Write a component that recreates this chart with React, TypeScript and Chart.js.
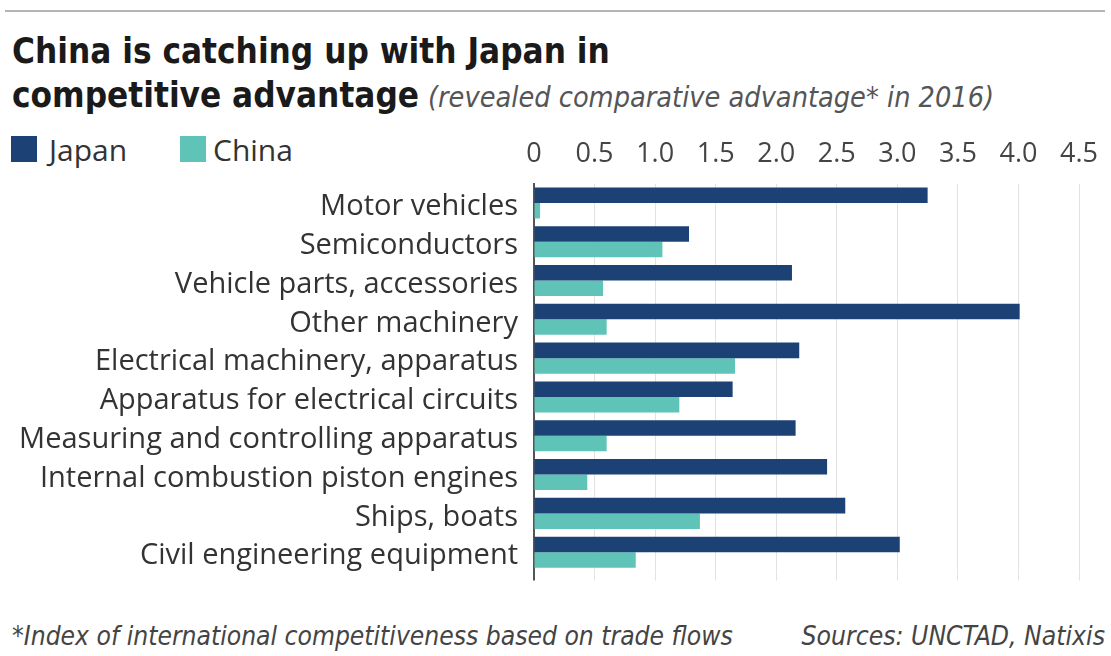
import React, { useEffect, useRef } from "react";
import { Chart, registerables } from "chart.js";

Chart.register(...registerables);

const categories = [
  "Motor vehicles",
  "Semiconductors",
  "Vehicle parts, accessories",
  "Other machinery",
  "Electrical machinery, apparatus",
  "Apparatus for electrical circuits",
  "Measuring and controlling apparatus",
  "Internal combustion piston engines",
  "Ships, boats",
  "Civil engineering equipment",
];
const japanValues = [3.25, 1.28, 2.13, 4.01, 2.19, 1.64, 2.16, 2.42, 2.57, 3.02];
const chinaValues = [0.05, 1.06, 0.57, 0.6, 1.66, 1.2, 0.6, 0.44, 1.37, 0.84];
const tickValues = [0, 0.5, 1.0, 1.5, 2.0, 2.5, 3.0, 3.5, 4.0, 4.5];
const tickLabels = ["0", "0.5", "1.0", "1.5", "2.0", "2.5", "3.0", "3.5", "4.0", "4.5"];

const JAPAN = "#1c4275";
const CHINA = "#5fc3b8";
const NARROW = "'DejaVu Sans Condensed', 'DejaVu Sans', sans-serif";
const LABEL_FONT = "'Open Sans', Lato, sans-serif";

export default function App() {
  const ref = useRef<HTMLCanvasElement>(null);

  useEffect(() => {
    if (!ref.current) return;
    const labelFor = (v: number) => {
      const i = tickValues.findIndex((t) => Math.abs(t - v) < 1e-6);
      return i >= 0 ? tickLabels[i] : "";
    };
    const chart = new Chart(ref.current, {
      type: "bar",
      data: {
        labels: categories,
        datasets: [
          { label: "Japan", data: japanValues, backgroundColor: JAPAN, xAxisID: "x" },
          { label: "China", data: chinaValues, backgroundColor: CHINA, xAxisID: "x" },
        ],
      },
      options: {
        indexAxis: "y",
        animation: false,
        responsive: false,
        maintainAspectRatio: false,
        layout: { padding: { left: 0, right: 24.5, top: 0, bottom: 0 } },
        datasets: { bar: { categoryPercentage: 0.8, barPercentage: 1.0 } },
        plugins: { legend: { display: false }, tooltip: { enabled: false }, title: { display: false } },
        scales: {
          x: {
            position: "top",
            min: 0,
            max: 4.5,
            afterBuildTicks: (s: any) => {
              s.ticks = tickValues.map((v) => ({ value: v }));
            },
            afterFit: (s: any) => {
              s.height = 53.5;
            },
            ticks: {
              callback: (v: any) => labelFor(Number(v)),
              color: "#444444",
              font: { family: LABEL_FONT, size: 27 },
              padding: 13,
              maxRotation: 0,
              autoSkip: false,
            },
            grid: { color: "#e2e2e2", lineWidth: 1, drawTicks: false },
            border: { display: false },
          },
          x2: {
            position: "bottom",
            min: 0,
            max: 4.5,
            afterBuildTicks: (s: any) => {
              s.ticks = tickValues.map((v) => ({ value: v }));
            },
            afterFit: (s: any) => {
              s.height = 12.8;
            },
            ticks: { display: false },
            grid: {
              drawOnChartArea: false,
              drawTicks: true,
              tickLength: 9,
              color: (ctx: any) => (ctx.tick && ctx.tick.value === 0 ? "#555555" : "#e2e2e2"),
              lineWidth: (ctx: any) => (ctx.tick && ctx.tick.value === 0 ? 2 : 1),
            },
            border: { display: false },
          },
          y: {
            afterFit: (s: any) => {
              s.width = 534;
            },
            ticks: {
              color: "#333333",
              font: { family: LABEL_FONT, size: 29 },
              padding: 16,
              labelOffset: 4,
              autoSkip: false,
            },
            grid: { display: false, drawTicks: false },
            border: { display: true, color: "#555555", width: 2 },
          },
        },
      },
    });
    return () => chart.destroy();
  }, []);

  const abs = (o: React.CSSProperties): React.CSSProperties => ({ position: "absolute", whiteSpace: "nowrap", ...o });

  return (
    <div style={{ position: "absolute", left: 0, top: 0, width: 1111, height: 656, background: "#ffffff", overflow: "hidden" }}>
      <div style={abs({ left: 5, top: 10, width: 1100, height: 2, background: "#b5b5b5" })} />
      <div
        style={abs({
          left: 12,
          top: 31,
          fontFamily: NARROW,
          fontWeight: 700,
          fontSize: 36,
          lineHeight: "40px",
          color: "#1a1a1a",
          transform: "scaleX(0.966)",
          transformOrigin: "0 0",
        })}
      >
        China is catching up with Japan in
      </div>
      <div
        style={abs({
          left: 12,
          top: 75,
          fontFamily: NARROW,
          fontWeight: 700,
          fontSize: 36,
          lineHeight: "40px",
          color: "#1a1a1a",
          transform: "scaleX(0.966)",
          transformOrigin: "0 0",
        })}
      >
        competitive advantage
      </div>
      <div
        style={abs({
          left: 428,
          top: 79,
          fontFamily: NARROW,
          fontStyle: "italic",
          fontSize: 28.6,
          lineHeight: "36px",
          color: "#555555",
        })}
      >
        (revealed comparative advantage* in 2016)
      </div>
      <div style={abs({ left: 11, top: 136, width: 26, height: 26, background: JAPAN })} />
      <div style={abs({ left: 49, top: 134.5, fontFamily: LABEL_FONT, fontSize: 30, lineHeight: "30px", color: "#333333" })}>Japan</div>
      <div style={abs({ left: 180, top: 136, width: 26, height: 26, background: CHINA })} />
      <div style={abs({ left: 213, top: 134.5, fontFamily: LABEL_FONT, fontSize: 30, lineHeight: "30px", color: "#333333" })}>China</div>
      <canvas ref={ref} width={1111} height={475} style={abs({ left: 0, top: 130, width: 1111, height: 475 })} />
      <div style={abs({ left: 12, top: 620, fontFamily: NARROW, fontStyle: "italic", fontSize: 26.2, lineHeight: "32px", color: "#444444" })}>
        *Index of international competitiveness based on trade flows
      </div>
      <div style={abs({ right: 6, top: 620, fontFamily: NARROW, fontStyle: "italic", fontSize: 26.3, lineHeight: "32px", color: "#444444" })}>
        Sources: UNCTAD, Natixis
      </div>
    </div>
  );
}
